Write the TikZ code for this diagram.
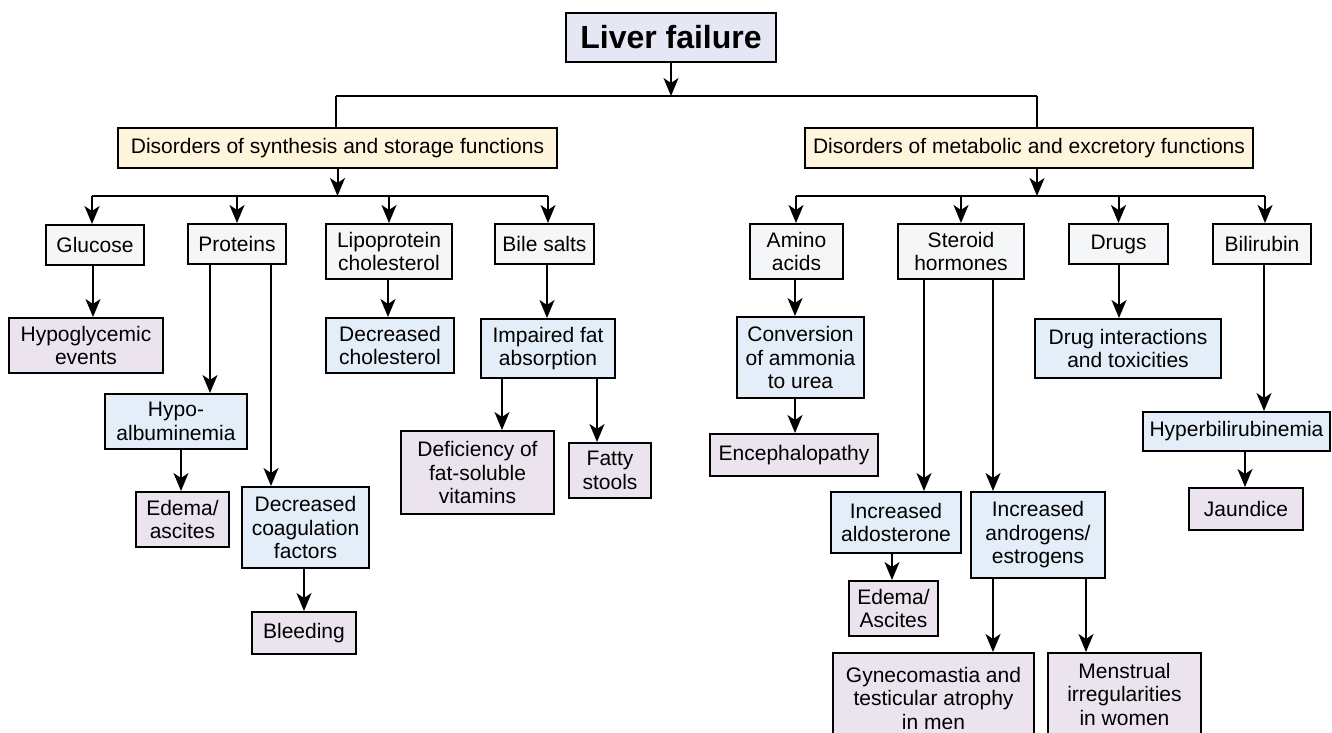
\documentclass[tikz,border=0pt]{standalone}
\usepackage{fontspec}
\setmainfont{Liberation Sans}
\usetikzlibrary{arrows.meta,calc}
\definecolor{cTop}{RGB}{230,231,244}
\definecolor{cYel}{RGB}{255,244,220}
\definecolor{cWht}{RGB}{245,246,248}
\definecolor{cBlu}{RGB}{227,238,248}
\definecolor{cPur}{RGB}{235,227,238}
\newcommand\arrdown[3]{\path ([xshift=#1]#2.south) coordinate (tmp); \draw[arr] (tmp) -- (tmp |- #3.north);}
\begin{document}
\begin{tikzpicture}[x=1pt,y=-1pt,
  box/.style={draw=black, line width=2pt, inner sep=0pt, align=center,
              font=\fontsize{21}{23.5}\selectfont},
  wh/.style 2 args={minimum width=#1pt, minimum height=#2pt},
  topbox/.style={box, fill=cTop, font=\fontsize{32}{36}\selectfont\bfseries},
  ybox/.style={box, fill=cYel},
  wbox/.style={box, fill=cWht},
  bbox/.style={box, fill=cBlu},
  pbox/.style={box, fill=cPur},
  arr/.style={line width=2pt, -{Stealth[length=18pt,width=15pt,inset=5pt]}},
  ln/.style={line width=2pt}]
\useasboundingbox (0,0) rectangle (1332,732);
\fill[white] (0,0) rectangle (1332,732);

% top
\node[topbox, wh={210}{49}] (lf) at (671,37.5) {Liver failure};
\node[ybox, wh={439}{40}] (d1) at (337.5,148) {Disorders of synthesis and storage functions};
\node[ybox, wh={448}{40}] (d2) at (1029,148) {Disorders of metabolic and excretory functions};

% level 2
\node[wbox, wh={98}{40}] (glu) at (95,245) {Glucose};
\node[wbox, wh={98}{40}] (pro) at (237,244) {Proteins};
\node[wbox, wh={126}{55}] (lip) at (389,251.5) {Lipoprotein\\cholesterol};
\node[wbox, wh={99}{40}] (bile) at (544.5,244) {Bile salts};
\node[wbox, wh={93}{55}] (amino) at (796.5,251.5) {Amino\\acids};
\node[wbox, wh={126}{55}] (ster) at (961,251.5) {Steroid\\hormones};
\node[wbox, wh={99}{40}] (drugs) at (1118.5,244) {Drugs};
\node[wbox, wh={98}{40}] (bili) at (1262,244) {Bilirubin};

% level 3 left
\node[pbox, wh={154}{55}] (hypo) at (86,345.5) {Hypoglycemic\\events};
\node[bbox, wh={142}{55}] (hypoalb) at (176,421.5) {Hypo-\\albuminemia};
\node[pbox, wh={93}{55}] (edema1) at (182.5,519.5) {Edema/\\ascites};
\node[bbox, wh={127}{81}] (coag) at (305.5,527.5) {Decreased\\coagulation\\factors};
\node[pbox, wh={104}{42}] (bleed) at (304,633) {Bleeding};
\node[bbox, wh={128}{55}] (decchol) at (390,345.5) {Decreased\\cholesterol};
\node[bbox, wh={134}{59}] (impaired) at (548,348.5) {Impaired fat\\absorption};
\node[pbox, wh={153}{83}] (defic) at (477.5,472.5) {Deficiency of\\fat-soluble\\vitamins};
\node[pbox, wh={82}{55}] (fatty) at (610,470.5) {Fatty\\stools};

% level 3 right
\node[bbox, wh={127}{81}] (conv) at (800.5,357.5) {Conversion\\of ammonia\\to urea};
\node[pbox, wh={168}{42}] (enceph) at (794,455) {Encephalopathy};
\node[bbox, wh={130}{61}] (aldo) at (896,522.5) {Increased\\aldosterone};
\node[bbox, wh={134}{86}] (andro) at (1038,535) {Increased\\androgens/\\estrogens};
\node[pbox, wh={89}{55}] (edema2) at (893.5,608.5) {Edema/\\Ascites};
\node[pbox, wh={201}{90}] (gyn) at (933.5,698) {Gynecomastia and\\testicular atrophy\\in men};
\node[pbox, wh={153}{82}] (mens) at (1124.5,694) {Menstrual\\irregularities\\in women};
\node[bbox, wh={186}{59}] (druginter) at (1128,348.5) {Drug interactions\\and toxicities};
\node[bbox, wh={187}{39}] (hyperbili) at (1236.5,431.5) {Hyperbilirubinemia};
\node[pbox, wh={114}{42}] (jaund) at (1246,509) {Jaundice};

% buses
\coordinate (b0L) at (336,96);
\coordinate (b0R) at (1037,96);
\coordinate (b1L) at (92,196);
\coordinate (b1R) at (548,196);
\coordinate (b2L) at (796,196);
\coordinate (b2R) at (1265,196);

\draw[arr] (lf.south) -- (lf.south |- b0L);
\draw[ln] (b0L) -- (b0R);
\draw[ln] (b0L) -- (b0L |- d1.north);
\draw[ln] (b0R) -- (b0R |- d2.north);

\draw[arr] (d1.south) -- (d1.south |- b1L);
\draw[ln] (b1L) -- (b1R);
\draw[arr] (b1L) -- (b1L |- glu.north);
\draw[arr] (pro.north |- b1L) -- (pro.north);
\draw[arr] (lip.north |- b1L) -- (lip.north);
\draw[arr] (b1R) -- (b1R |- bile.north);

\draw[arr] (b0R |- d2.south) -- (b0R |- b2L);
\draw[ln] (b2L) -- (b2R);
\draw[arr] (b2L) -- (b2L |- amino.north);
\draw[arr] (ster.north |- b2L) -- (ster.north);
\draw[arr] (drugs.north |- b2L) -- (drugs.north);
\draw[arr] (b2R) -- (b2R |- bili.north);

% lower arrows
\arrdown{-2}{glu}{hypo}
\arrdown{-27}{pro}{hypoalb}
\arrdown{34}{pro}{coag}
\arrdown{5}{hypoalb}{edema1}
\arrdown{-1.5}{coag}{bleed}
\arrdown{-1}{lip}{decchol}
\arrdown{2.5}{bile}{impaired}
\arrdown{-46}{impaired}{defic}
\arrdown{49}{impaired}{fatty}
\arrdown{-1.5}{amino}{conv}
\arrdown{-5.5}{conv}{enceph}
\arrdown{-37}{ster}{aldo}
\arrdown{32}{ster}{andro}
\arrdown{-4}{aldo}{edema2}
\arrdown{-45}{andro}{gyn}
\arrdown{48}{andro}{mens}
\arrdown{0.5}{drugs}{druginter}
\arrdown{2}{bili}{hyperbili}
\arrdown{8.5}{hyperbili}{jaund}
\end{tikzpicture}
\end{document}
